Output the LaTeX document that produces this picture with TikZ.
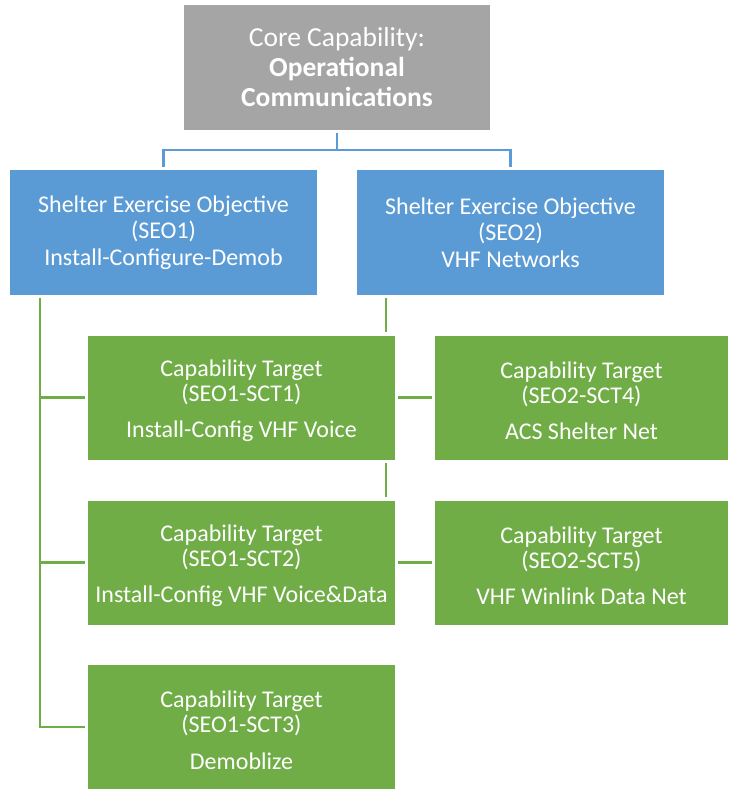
\documentclass[tikz,border=0pt]{standalone}
\usepackage{fontspec}
\setmainfont{Carlito}
\definecolor{cgray}{HTML}{A5A5A5}
\definecolor{cblue}{HTML}{5B9BD5}
\definecolor{cgreen}{HTML}{70AD47}
\newcommand{\tstrut}{\rule{0pt}{23pt}}
\tikzset{
  box/.style={inner sep=0pt, align=center, text=white},
  graybox/.style={box, fill=cgray, minimum width=306pt, minimum height=124pt, font=\fontsize{27.5}{30}\selectfont},
  bluebox/.style={box, fill=cblue, minimum width=307pt, minimum height=125pt, font=\fontsize{24}{26.5}\selectfont},
  greenbox/.style={box, fill=cgreen, minimum width=307pt, minimum height=124pt, font=\fontsize{24}{25}\selectfont},
  greenboxr/.style={greenbox, minimum width=293pt},
  blueline/.style={draw=cblue, line width=2.2pt},
  greenline/.style={draw=cgreen, line width=2.2pt},
}
\begin{document}
\begin{tikzpicture}[x=1pt,y=-1pt]
\useasboundingbox (0,0) rectangle (728,789);
\node[graybox] (core) at (337,67.5) {Core Capability:\\\textbf{Operational}\\\textbf{Communications}};
\node[bluebox] (seo1) at (163.5,232.5) {Shelter Exercise Objective\\(SEO1)\\Install-Configure-Demob};
\node[bluebox] (seo2) at (510.5,232.5) {Shelter Exercise Objective\\(SEO2)\\VHF Networks};
\node[greenbox] (sct1) at (241.5,397.5) {\tstrut Capability Target\\(SEO1-SCT1)\\[11.5pt]Install-Config VHF Voice};
\node[greenbox] (sct2) at (241.5,562.5) {\tstrut Capability Target\\(SEO1-SCT2)\\[11.5pt]Install-Config VHF Voice\&Data};
\node[greenbox] (sct3) at (241.5,727) {\tstrut Capability Target\\(SEO1-SCT3)\\[11.5pt]Demoblize};
\node[greenboxr] (sct4) at (581.5,397.5) {\tstrut Capability Target\\(SEO2-SCT4)\\[11.5pt]ACS Shelter Net};
\node[greenboxr] (sct5) at (581.5,562.5) {\tstrut Capability Target\\(SEO2-SCT5)\\[11.5pt]VHF Winlink Data Net};
% blue connectors
\coordinate (bj) at (337,150);
\draw[blueline] ([yshift=-3pt]core.south) -- (bj);
\draw[blueline] ([yshift=3pt]seo1.north) |- (bj) -| ([yshift=3pt]seo2.north);
% green connectors, left branch
\coordinate (lt) at ([xshift=30pt,yshift=-3pt]seo1.south west);
\draw[greenline] (lt) |- ([xshift=-3pt]sct3.west);
\draw[greenline] (lt |- sct1.west) -- ([xshift=-3pt]sct1.west);
\draw[greenline] (lt |- sct2.west) -- ([xshift=-3pt]sct2.west);
% green connectors, right branch
\coordinate (rt) at ([xshift=29pt,yshift=-3pt]seo2.south west);
\draw[greenline] (rt) -- ([yshift=3pt]rt |- sct1.north);
\draw[greenline] ([yshift=-3pt]rt |- sct1.south) -- ([yshift=3pt]rt |- sct2.north);
\draw[greenline] ([xshift=3pt]sct1.east) -- ([xshift=-3pt]sct4.west);
\draw[greenline] ([xshift=3pt]sct2.east) -- ([xshift=-3pt]sct5.west);
\end{tikzpicture}
\end{document}
